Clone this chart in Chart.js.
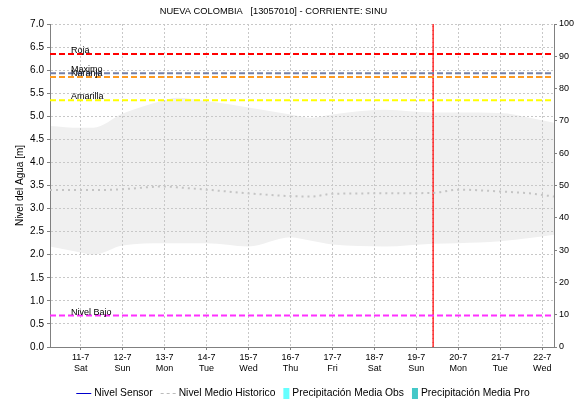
<!DOCTYPE html>
<html>
<head>
<meta charset="utf-8">
<script src="https://cdn.jsdelivr.net/npm/chart.js@4/dist/chart.umd.min.js"></script>
<style>
  html, body { margin: 0; padding: 0; background: #fff; }
  #wrap { width: 580px; height: 402px; }
</style>
</head>
<body>
<div id="wrap"><canvas id="levelChart" width="580" height="402"></canvas></div>
<script>
// Station level chart - NUEVA COLOMBIA

const chartTitle = 'NUEVA COLOMBIA   [13057010] - CORRIENTE: SINU';
const dayTicks = [0, 1, 2, 3, 4, 5, 6, 7, 8, 9, 10, 11];
const dayLabels = ['11-7', '12-7', '13-7', '14-7', '15-7', '16-7', '17-7', '18-7', '19-7', '20-7', '21-7', '22-7'];
const weekdayLabels = ['Sat', 'Sun', 'Mon', 'Tue', 'Wed', 'Thu', 'Fri', 'Sat', 'Sun', 'Mon', 'Tue', 'Wed'];
const axisStart = -0.73;   // days relative to 11-7
const axisEnd = 11.28;
const nowDay = 8.4;

// historic envelope (days, metres)
const bandDays   = [-0.73, 0,    0.3,  1,    2,    2.3,  3,    4,    5,    5.5,  6,    7.25, 8.4,  9,    10,   10.7, 11.28];
const bandUpper  = [4.79,  4.75, 4.75, 5.06, 5.35, 5.40, 5.33, 5.19, 5.04, 4.97, 5.04, 5.14, 5.08, 5.08, 5.07, 4.97, 4.86];
const bandLower  = [2.18,  2.05, 2.00, 2.20, 2.25, 2.25, 2.25, 2.18, 2.38, 2.30, 2.22, 2.18, 2.24, 2.25, 2.29, 2.36, 2.43];
const medianLevel = [3.40, 3.40, 3.40, 3.42, 3.48, 3.46, 3.41, 3.33, 3.27, 3.26, 3.32, 3.33, 3.34, 3.41, 3.37, 3.33, 3.26];

// alert thresholds
const thresholdNames  = ['Roja', 'Maximo', 'Naranja', 'Amarilla', 'Nivel Bajo'];
const thresholdValues = [6.35, 5.93, 5.85, 5.35, 0.68];
const thresholdColors = ['#FF0000', '#7480A8', '#FF9A20', '#FFFF00', '#FF30FF'];

const legendLabels = ['Nivel Sensor', 'Nivel Medio Historico', 'Precipitación Media Obs', 'Precipitación Media Pro'];
const legendKinds  = ['line', 'dash', 'box', 'box'];
const legendColors = ['#0000CC', '#BBBBBB', '#66FFFF', '#44C8C8'];

const FONT = '"Liberation Sans", Arial, sans-serif';

function toPoints(xs, ys) {
    return xs.map((x, i) => ({ x: x, y: ys[i] }));
}

const datasets = [
    {
        label: 'upper',
        data: toPoints(bandDays, bandUpper),
        borderWidth: 0,
        pointRadius: 0,
        backgroundColor: '#F0F0F0',
        fill: '+1',
        cubicInterpolationMode: 'monotone'
    },
    {
        label: 'lower',
        data: toPoints(bandDays, bandLower),
        borderWidth: 0,
        pointRadius: 0,
        fill: false,
        cubicInterpolationMode: 'monotone'
    },
    {
        label: 'Nivel Medio Historico',
        data: toPoints(bandDays, medianLevel),
        borderColor: '#C4C4C4',
        borderWidth: 2,
        borderDash: [2, 4],
        pointRadius: 0,
        fill: false,
        cubicInterpolationMode: 'monotone'
    }
];

thresholdValues.forEach((v, i) => {
    datasets.push({
        label: thresholdNames[i],
        data: [{ x: axisStart, y: v }, { x: axisEnd, y: v }],
        borderColor: thresholdColors[i],
        borderWidth: 2,
        borderDash: [6, 3],
        pointRadius: 0,
        fill: false
    });
});

// current time marker
datasets.push({
    label: 'now',
    data: [{ x: nowDay, y: 0 }, { x: nowDay, y: 7 }],
    borderColor: '#FF3030',
    borderWidth: 1.5,
    pointRadius: 0,
    fill: false
});
datasets.push({
    label: 'now-dots',
    data: [{ x: nowDay, y: 0 }, { x: nowDay, y: 7 }],
    borderColor: '#990000',
    borderWidth: 1,
    borderDash: [1, 3],
    pointRadius: 0,
    fill: false
});

const decorPlugin = {
    id: 'decor',
    afterDatasetsDraw(chart) {
        const ctx = chart.ctx;
        const xs = chart.scales.x;
        const ys = chart.scales.y;
        ctx.save();
        ctx.font = '9px ' + FONT;
        ctx.fillStyle = '#000';
        ctx.textAlign = 'left';
        ctx.textBaseline = 'alphabetic';
        thresholdValues.forEach((v, i) => {
            ctx.fillText(thresholdNames[i], xs.getPixelForValue(axisStart) + 21, ys.getPixelForValue(v) - 1);
        });
        ctx.restore();
    },
    afterDraw(chart) {
        const ctx = chart.ctx;
        const area = chart.chartArea;
        ctx.save();
        // title
        ctx.font = '9.3px ' + FONT;
        ctx.fillStyle = '#000';
        ctx.textAlign = 'center';
        ctx.textBaseline = 'middle';
        ctx.fillText(chartTitle, 273.5, 11);

        // y axis title
        ctx.save();
        ctx.translate(20, (area.top + area.bottom) / 2);
        ctx.rotate(-Math.PI / 2);
        ctx.font = '10px ' + FONT;
        ctx.fillText('Nivel del Agua [m]', 0, 0);
        ctx.restore();

        // legend
        ctx.font = '10.3px ' + FONT;
        const y = 393;
        const widths = legendLabels.map((t, i) => {
            const sw = legendKinds[i] === 'box' ? 6 : 15;
            return sw + 3 + ctx.measureText(t).width;
        });
        const total = widths.reduce((a, b) => a + b, 0) + 8 * (widths.length - 1);
        let x = 303 - total / 2;
        ctx.textAlign = 'left';
        legendLabels.forEach((t, i) => {
            const kind = legendKinds[i];
            ctx.strokeStyle = legendColors[i];
            ctx.fillStyle = legendColors[i];
            let sw = 15;
            if (kind === 'box') {
                sw = 6;
                ctx.fillRect(x, y - 5, 6, 11);
            } else {
                ctx.lineWidth = 1;
                ctx.setLineDash(kind === 'dash' ? [3, 3] : []);
                ctx.beginPath();
                ctx.moveTo(x, y + 0.5);
                ctx.lineTo(x + 15, y + 0.5);
                ctx.stroke();
                ctx.setLineDash([]);
            }
            ctx.fillStyle = '#000';
            ctx.fillText(t, x + sw + 3, y);
            x += widths[i] + 8;
        });
        ctx.restore();
    }
};

const ctx = document.getElementById('levelChart').getContext('2d');

new Chart(ctx, {
    type: 'line',
    data: { datasets: datasets },
    options: {
        responsive: false,
        animation: false,
        devicePixelRatio: 1,
        layout: { padding: { top: 24, left: 0, right: 0, bottom: 0 } },
        plugins: {
            legend: { display: false },
            title: { display: false },
            tooltip: { enabled: false },
            filler: { drawTime: 'beforeDraw' }
        },
        scales: {
            x: {
                type: 'linear',
                min: axisStart,
                max: axisEnd,
                afterBuildTicks: (scale) => {
                    scale.ticks = dayTicks.map(v => ({ value: v }));
                },
                afterFit: (scale) => { scale.height = 55; },
                ticks: {
                    autoSkip: false,
                    maxRotation: 0,
                    padding: 2,
                    color: '#000',
                    font: { family: FONT, size: 9 },
                    callback: (value) => {
                        const i = dayTicks.indexOf(Math.round(value));
                        return i >= 0 ? [dayLabels[i], weekdayLabels[i]] : '';
                    }
                },
                grid: { color: '#C8C8C8', tickLength: 3, tickColor: '#808080' },
                border: { color: '#808080', dash: [2, 2] }
            },
            y: {
                position: 'left',
                min: 0,
                max: 7,
                afterFit: (scale) => { scale.width = 50; },
                ticks: {
                    stepSize: 0.5,
                    padding: 3,
                    color: '#000',
                    font: { family: FONT, size: 10 },
                    callback: (v) => v.toFixed(1)
                },
                grid: { color: '#C8C8C8', tickLength: 3, tickColor: '#808080' },
                border: { color: '#808080', dash: [2, 2] }
            },
            y2: {
                position: 'right',
                min: 0,
                max: 100,
                afterFit: (scale) => { scale.width = 26; },
                ticks: {
                    stepSize: 10,
                    padding: 2,
                    color: '#000',
                    font: { family: FONT, size: 9 }
                },
                grid: { drawOnChartArea: false, tickLength: 3, tickColor: '#808080' },
                border: { color: '#808080' }
            }
        }
    },
    plugins: [decorPlugin]
});
</script>
</body>
</html>
